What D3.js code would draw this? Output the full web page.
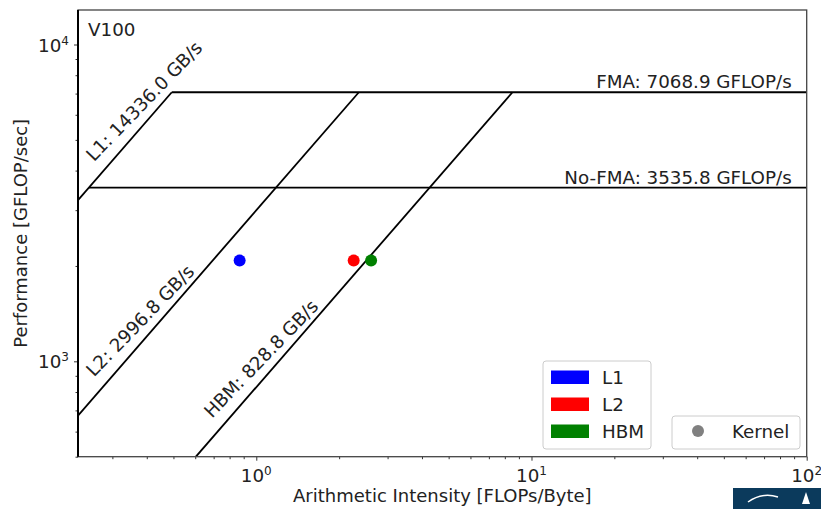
<!DOCTYPE html>
<html>
<head>
<meta charset="utf-8">
<script src="https://cdn.jsdelivr.net/npm/d3@7"></script>
<style>
  html, body { margin: 0; padding: 0; background: #fff; }
  svg { display: block; font-family: "DejaVu Sans", sans-serif; }
</style>
</head>
<body>
<svg id="chart" width="821" height="509"></svg>
<script>
// ---- data ----
const memRoofNames = ["L1", "L2", "HBM"];
const memRoofBW = [14336.0, 2996.8, 828.8];          // GB/s
const cmpRoofNames = ["FMA", "No-FMA"];
const cmpRoofPerf = [7068.9, 3535.8];                // GFLOP/s
const kernelAI = [0.870, 2.259, 2.613];              // FLOPs/Byte
const kernelPerf = [2080, 2080, 2080];               // GFLOP/s
const kernelLevel = ["L1", "L2", "HBM"];
const levelColors = ["#0000ff", "#ff0000", "#008000"];
const xTicks = [1, 10, 100];
const yTicks = [1000, 10000];
const xDomain = [0.225, 100];
const yDomain = [500, 12850];
const title = "V100";

// ---- layout ----
const svg = d3.select("#chart");
const L = 78, R = 806.7, T = 10, B = 456.7;
const x = d3.scaleLog().domain(xDomain).range([L, R]);
const y = d3.scaleLog().domain(yDomain).range([B, T]);
const fs = 18.3;

svg.append("defs").append("clipPath").attr("id", "clip")
  .append("rect").attr("x", L).attr("y", T).attr("width", R - L).attr("height", B - T);
const plot = svg.append("g").attr("clip-path", "url(#clip)");

// rooflines
const maxCmp = d3.max(cmpRoofPerf);
const lineGen = d3.line().x(d => x(d[0])).y(d => y(d[1]));
memRoofBW.forEach((bw, i) => {
  const xStart = Math.max(xDomain[0], yDomain[0] / bw);
  const xEnd = maxCmp / bw;
  plot.append("path")
    .attr("d", lineGen([[xStart, bw * xStart], [xEnd, maxCmp]]))
    .attr("fill", "none").attr("stroke", "#000").attr("stroke-width", 1.8);
  const sx = x(xStart), sy = y(bw * xStart);
  svg.append("text")
    .attr("transform", `translate(${sx + 16},${sy - 38}) rotate(-46)`)
    .attr("font-size", fs).attr("fill", "#222")
    .text(`${memRoofNames[i]}: ${bw.toFixed(1)} GB/s`);
});
const maxBW = d3.max(memRoofBW);
cmpRoofPerf.forEach((p, i) => {
  const xStart = p / maxBW;
  plot.append("path")
    .attr("d", lineGen([[xStart, p], [xDomain[1], p]]))
    .attr("fill", "none").attr("stroke", "#000").attr("stroke-width", 1.8);
  svg.append("text")
    .attr("x", R - 15).attr("y", y(p) - 4)
    .attr("text-anchor", "end").attr("font-size", fs).attr("fill", "#222")
    .text(`${cmpRoofNames[i]}: ${p.toFixed(1)} GFLOP/s`);
});

// kernel points
kernelAI.forEach((ai, i) => {
  plot.append("circle")
    .attr("cx", x(ai)).attr("cy", y(kernelPerf[i])).attr("r", 6)
    .attr("fill", levelColors[memRoofNames.indexOf(kernelLevel[i])]);
});

// axes
svg.append("g").attr("transform", `translate(0,${B})`)
  .call(d3.axisBottom(x).tickValues(xTicks).tickSize(4).tickFormat(""));
const xMinor = [];
for (let d = 0.1; d < 100; d *= 10) for (let k = 2; k <= 9; k++) {
  const v = d * k; if (v >= xDomain[0] && v <= xDomain[1]) xMinor.push(v);
}
svg.append("g").attr("transform", `translate(0,${B})`)
  .call(d3.axisBottom(x).tickValues(xMinor).tickSize(2.5).tickFormat(""));
svg.append("g").attr("transform", `translate(${L},0)`)
  .call(d3.axisLeft(y).tickValues(yTicks).tickSize(4).tickFormat(""));
const yMinor = [];
for (let d = 100; d < 100000; d *= 10) for (let k = 2; k <= 9; k++) {
  const v = d * k; if (v >= yDomain[0] && v <= yDomain[1]) yMinor.push(v);
}
svg.append("g").attr("transform", `translate(${L},0)`)
  .call(d3.axisLeft(y).tickValues(yMinor).tickSize(2.5).tickFormat(""));
svg.selectAll(".domain").remove();
svg.selectAll(".tick line").attr("stroke", "#333").attr("stroke-width", 1);

// tick labels
xTicks.forEach(v => {
  const t = svg.append("text").attr("x", x(v)).attr("y", B + 25)
    .attr("text-anchor", "middle").attr("font-size", fs).attr("fill", "#222");
  t.append("tspan").text("10");
  t.append("tspan").attr("dy", -7).attr("font-size", 12).text(Math.round(Math.log10(v)));
});
yTicks.forEach(v => {
  const t = svg.append("text").attr("x", L - 9).attr("y", y(v) + 7)
    .attr("text-anchor", "end").attr("font-size", fs).attr("fill", "#222");
  t.append("tspan").text("10");
  t.append("tspan").attr("dy", -7).attr("font-size", 12).text(Math.round(Math.log10(v)));
});

// frame
svg.append("rect").attr("x", L).attr("y", T).attr("width", R - L).attr("height", B - T)
  .attr("fill", "none").attr("stroke", "#444").attr("stroke-width", 1.3);
svg.append("line").attr("x1", L).attr("x2", L).attr("y1", T).attr("y2", B)
  .attr("stroke", "#000").attr("stroke-width", 2);

// titles
svg.append("text").attr("x", 88).attr("y", 36).attr("font-size", fs).attr("fill", "#222").text(title);
svg.append("text").attr("x", (L + R) / 2).attr("y", 502).attr("text-anchor", "middle")
  .attr("font-size", 18).attr("fill", "#222").text("Arithmetic Intensity [FLOPs/Byte]");
svg.append("text").attr("transform", `translate(27,${(T + B) / 2}) rotate(-90)`)
  .attr("text-anchor", "middle").attr("font-size", 18).attr("fill", "#222")
  .text("Performance [GFLOP/sec]");

// legend 1 (memory levels)
const lg = svg.append("g");
lg.append("rect").attr("x", 543).attr("y", 361).attr("width", 108).attr("height", 88)
  .attr("rx", 3).attr("fill", "#fff").attr("stroke", "#ccc").attr("stroke-width", 1);
memRoofNames.forEach((n, i) => {
  lg.append("rect").attr("x", 551).attr("y", 370.5 + i * 27).attr("width", 38).attr("height", 13.5)
    .attr("fill", levelColors[i]);
  lg.append("text").attr("x", 602).attr("y", 384 + i * 27).attr("font-size", fs).attr("fill", "#222").text(n);
});
// legend 2 (marker)
lg.append("rect").attr("x", 672).attr("y", 416).attr("width", 128).attr("height", 33)
  .attr("rx", 3).attr("fill", "#fff").attr("stroke", "#ccc").attr("stroke-width", 1);
lg.append("circle").attr("cx", 698).attr("cy", 431).attr("r", 6).attr("fill", "#808080");
lg.append("text").attr("x", 732).attr("y", 438).attr("font-size", fs).attr("fill", "#222").text("Kernel");

// corner logo fragment
svg.append("rect").attr("x", 733).attr("y", 488).attr("width", 88).attr("height", 21).attr("fill", "#0b3a5c");
svg.append("path").attr("d", "M748,502 Q762,492 778,497").attr("fill", "none")
  .attr("stroke", "#fff").attr("stroke-width", 1.5);
svg.append("path").attr("d", "M806,492 l-4,12 l8,0 z").attr("fill", "#fff");
</script>
</body>
</html>
